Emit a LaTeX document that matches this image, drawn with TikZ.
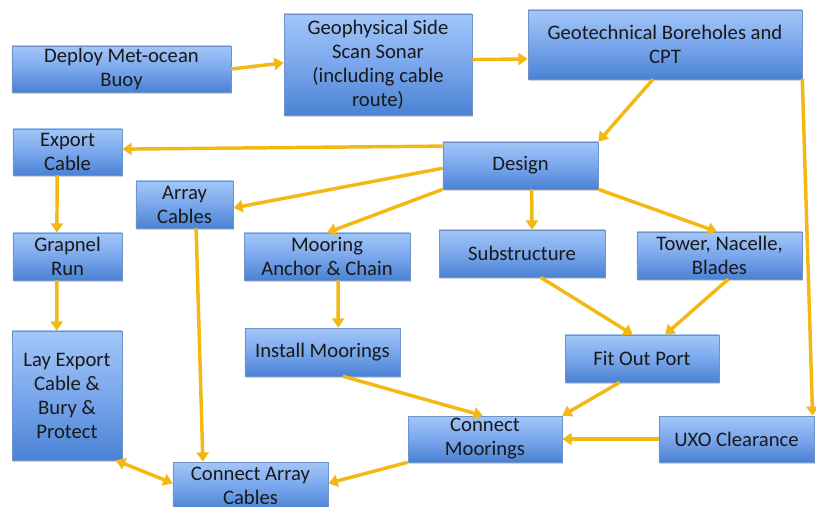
\documentclass[tikz,border=0pt]{standalone}
\usepackage{fontspec}
\setmainfont{Carlito}
\usepackage{tikz}
\usetikzlibrary{arrows.meta,shadows}
\definecolor{boxtop}{HTML}{A2C6F8}
\definecolor{boxmid}{HTML}{7AA7EC}
\definecolor{boxbot}{HTML}{4A82D4}
\definecolor{boxline}{HTML}{6F93C9}
\definecolor{flow}{HTML}{F4B812}
\tikzstyle{stage} = [draw=boxline, thin, rectangle, inner sep=0pt, align=center,
    top color=boxtop, bottom color=boxbot, middle color=boxmid,
    drop shadow={shadow xshift=1pt, shadow yshift=-1.5pt, opacity=0.35},
    font=\fontsize{15.5}{18}\selectfont, text=black!90]
\tikzstyle{feed} = [draw=flow, line width=2.6pt, -{Triangle[length=7pt,width=9pt]}]

\begin{document}
\begin{tikzpicture}[x=0.75pt,y=-0.75pt]
    \useasboundingbox (0,0) rectangle (816,506);
    \node[stage, minimum width=164.3pt, minimum height=34.5pt] (buoy) at (121.5,69) {Deploy Met-ocean\\Buoy};
    \node[stage, minimum width=141pt, minimum height=75.8pt] (sonar) at (378,64.5) {Geophysical Side\\Scan Sonar\\(including cable\\route)};
    \node[stage, minimum width=205.5pt, minimum height=51.8pt] (bore) at (665,44.5) {Geotechnical Boreholes and\\CPT};
    \node[stage, minimum width=116.3pt, minimum height=35.3pt] (design) at (520.5,165.5) {Design};
    \node[stage, minimum width=81.8pt, minimum height=34.5pt] (export) at (67.5,152) {Export\\Cable};
    \node[stage, minimum width=72.8pt, minimum height=35.3pt] (array) at (184.5,204.5) {Array\\Cables};
    \node[stage, minimum width=124.5pt, minimum height=35.3pt] (mooring) at (327,256.5) {Mooring\\Anchor \& Chain};
    \node[stage, minimum width=81.8pt, minimum height=35.3pt] (grapnel) at (67.5,256.5) {Grapnel\\Run};
    \node[stage, minimum width=124.5pt, minimum height=35.3pt] (substr) at (522,253.5) {Substructure};
    \node[stage, minimum width=123.8pt, minimum height=35.3pt] (tower) at (719.5,255.5) {Tower, Nacelle,\\Blades};
    \node[stage, minimum width=82.5pt, minimum height=96.8pt] (layexp) at (67,395.5) {Lay Export\\Cable \&\\Bury \&\\Protect};
    \node[stage, minimum width=116.3pt, minimum height=36pt] (install) at (322.5,352) {Install Moorings};
    \node[stage, minimum width=116.3pt, minimum height=36pt] (conarray) at (250.5,486) {Connect Array\\Cables};
    \node[stage, minimum width=115.5pt, minimum height=35.3pt] (fitout) at (642,358.5) {Fit Out Port};
    \node[stage, minimum width=115.5pt, minimum height=34.5pt] (conmoor) at (485,439) {Connect\\Moorings};
    \node[stage, minimum width=116.3pt, minimum height=34.5pt] (uxo) at (736.5,439) {UXO Clearance};

    \draw[feed] (buoy.east) -- (sonar.179);
    \draw[feed] (sonar.3) -- (bore.186);
    \draw[feed] (bore.251) -- (design.north east);
    \draw[feed] (bore.-14.5) -- (uxo.17);
    \draw[feed] (design.166.6) -- (export.3);
    \draw[feed] (design.182) -- (array.-4);
    \draw[feed] (design.south west) -- (mooring.north);
    \draw[feed] (design.-65) -- (substr.67);
    \draw[feed] (design.south east) -- (tower.96);
    \draw[feed] (export.-114) -- (grapnel.114);
    \draw[feed] (grapnel.-114) -- (layexp.99);
    \draw[feed] (array.-64) -- (conarray.153);
    \draw[feed] (mooring.-65) -- (install.57);
    \draw[feed] (substr.-52) -- (fitout.111);
    \draw[feed] (tower.-70) -- (fitout.46);
    \draw[feed] (install.-50) -- (conmoor.95);
    \draw[feed] (fitout.-133) -- (conmoor.north east);
    \draw[feed] (uxo.west) -- (conmoor.east);
    \draw[feed] (conmoor.south west) -- (conarray.2);
    \draw[feed, {Triangle[length=7pt,width=9pt]}-{Triangle[length=7pt,width=9pt]}] (layexp.-53) -- (conarray.178);
\end{tikzpicture}
\end{document}
